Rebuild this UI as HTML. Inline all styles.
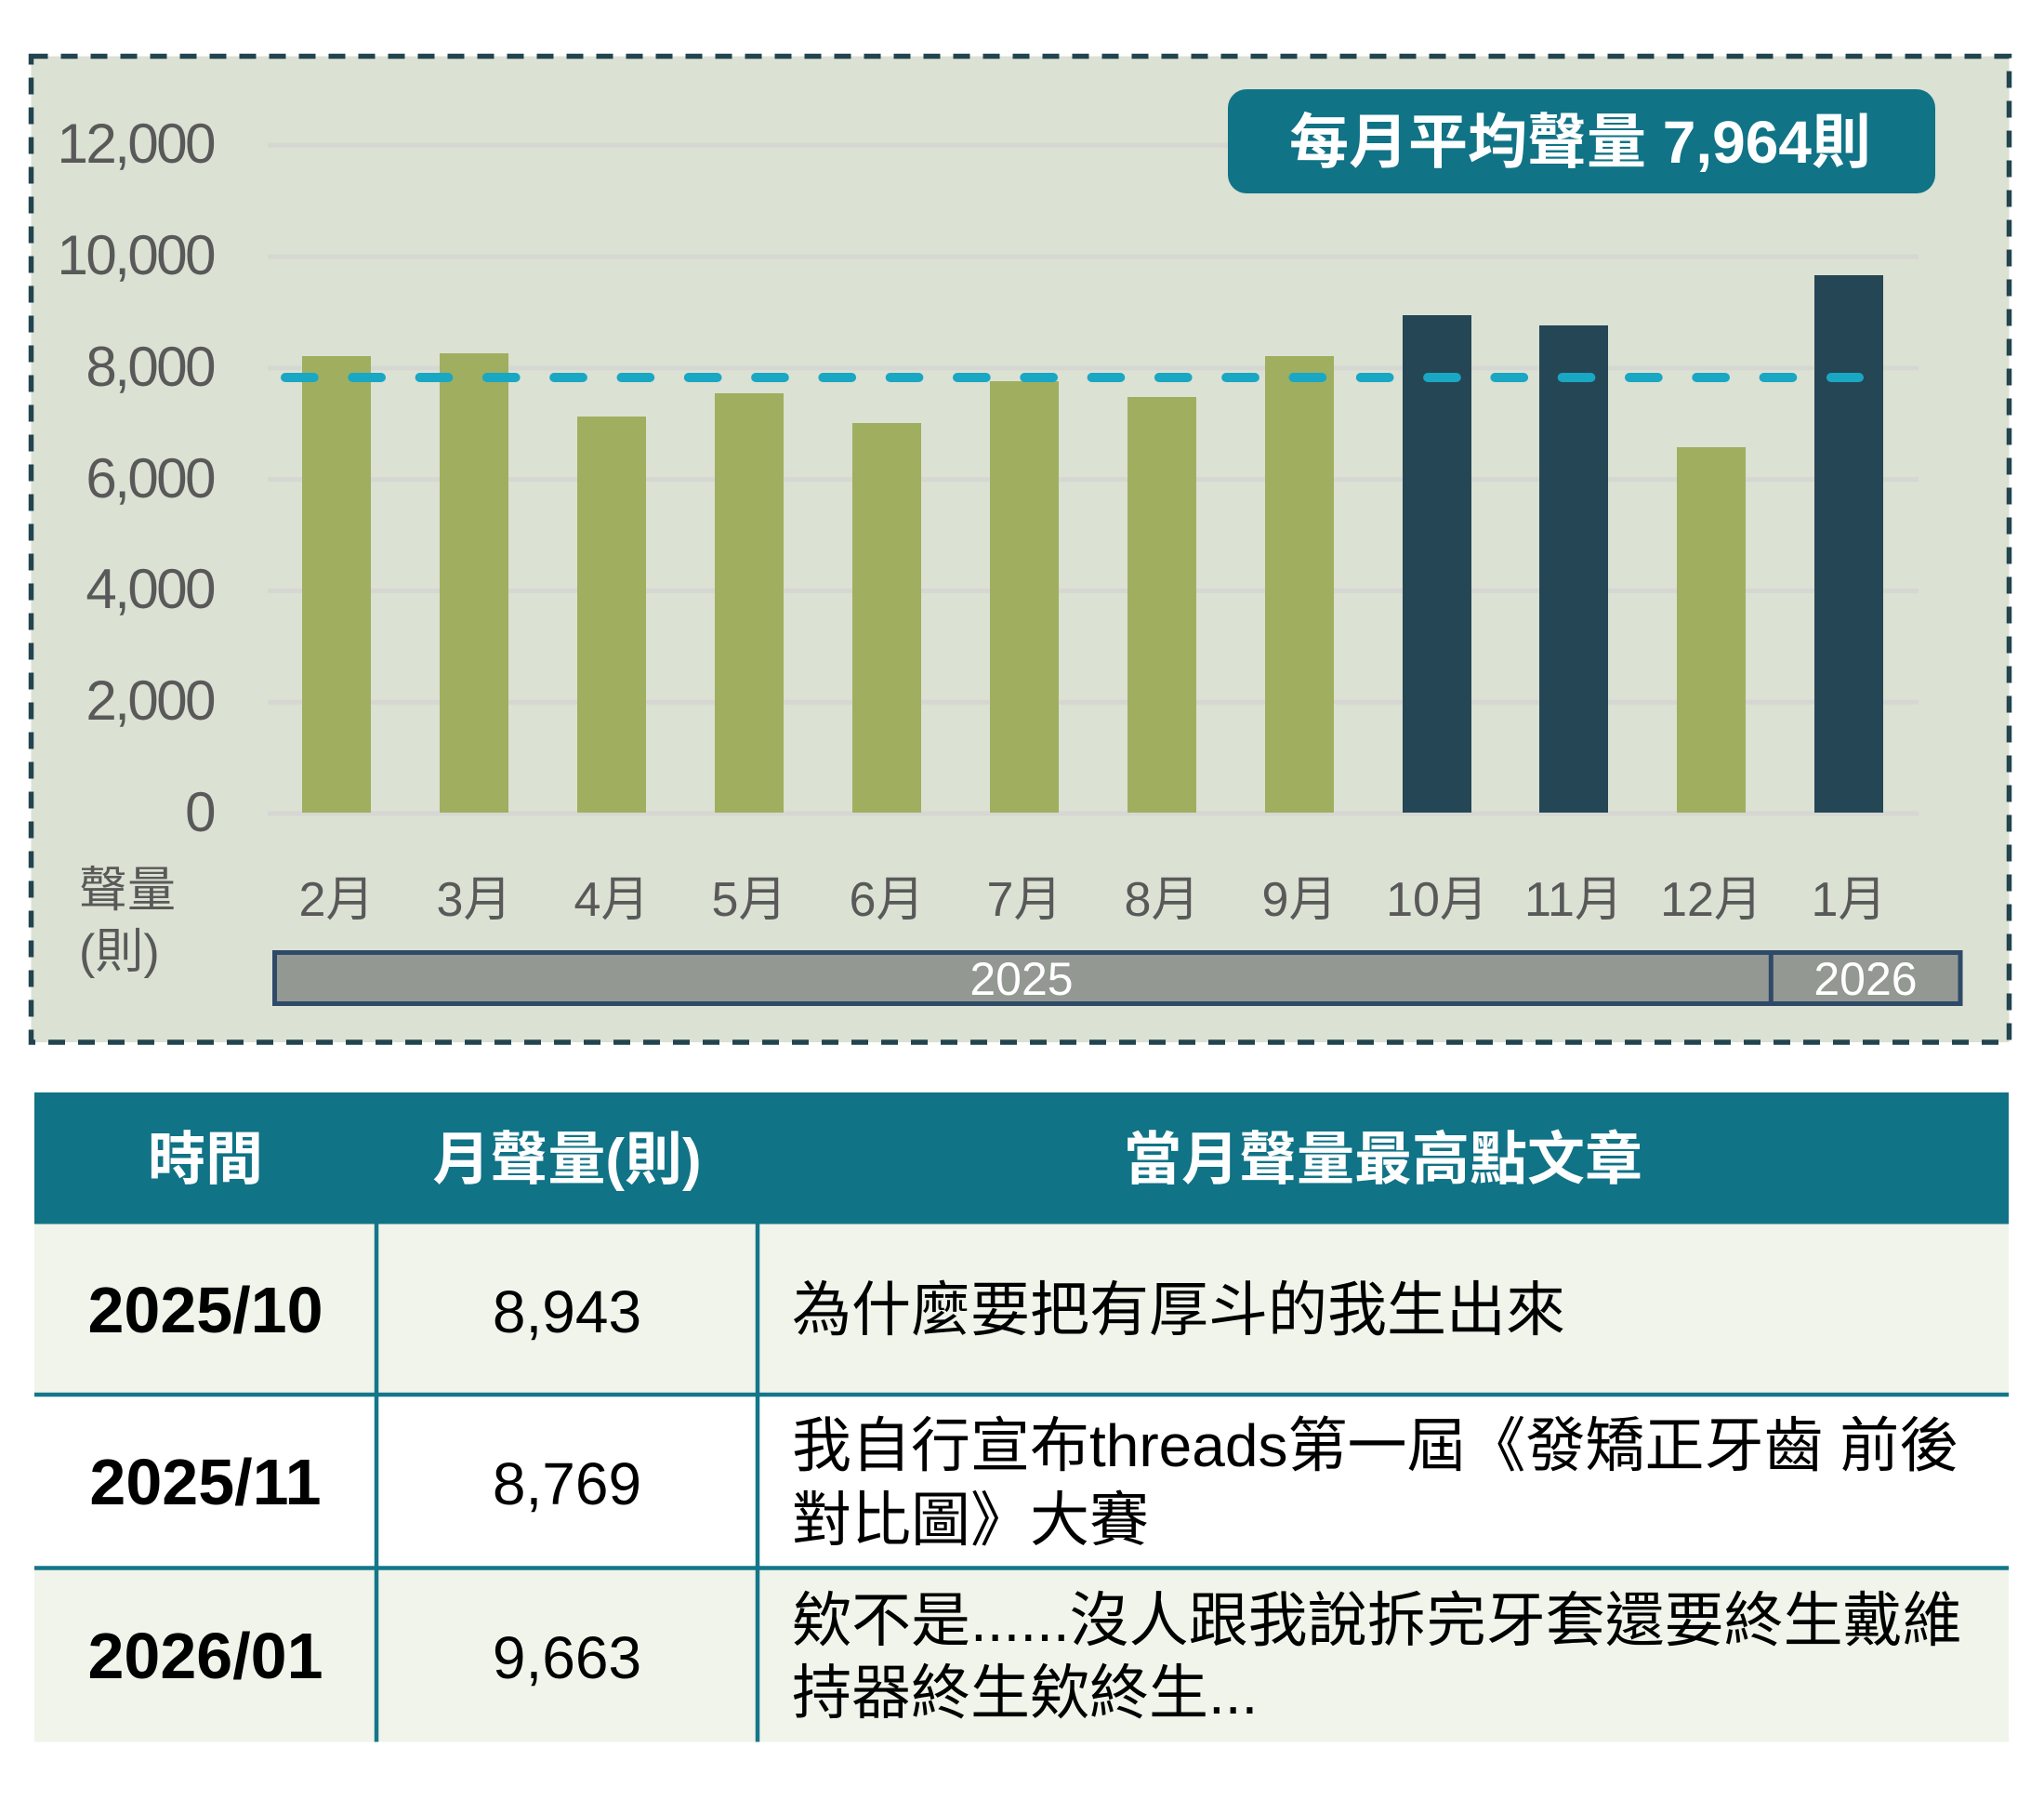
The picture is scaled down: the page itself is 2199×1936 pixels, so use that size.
<!DOCTYPE html>
<html>
<head>
<meta charset="utf-8">
<style>
  html,body{margin:0;padding:0;background:#ffffff;}
  body{width:2199px;height:1936px;overflow:hidden;position:relative;}
  svg{position:absolute;left:0;top:0;}
  text{font-family:"Liberation Sans","Noto Sans CJK TC",sans-serif;}
</style>
</head>
<body>
<svg width="2199" height="1936" viewBox="0 0 2199 1936" xmlns="http://www.w3.org/2000/svg">
  <!-- chart panel -->
  <rect x="33.5" y="60.5" width="2128" height="1060.5" fill="#dbe1d3" stroke="#22444f" stroke-width="5.5" stroke-dasharray="18 14"/>

  <!-- gridlines -->
  <g stroke="#d6d7d2" stroke-width="5">
    <line x1="288" y1="156.2" x2="2064" y2="156.2"/>
    <line x1="288" y1="276" x2="2064" y2="276"/>
    <line x1="288" y1="395.8" x2="2064" y2="395.8"/>
    <line x1="288" y1="515.6" x2="2064" y2="515.6"/>
    <line x1="288" y1="635.4" x2="2064" y2="635.4"/>
    <line x1="288" y1="755.2" x2="2064" y2="755.2"/>
    <line x1="288" y1="875" x2="2064" y2="875"/>
  </g>

  <!-- y labels -->
  <g fill="#595959" font-size="60" text-anchor="end" letter-spacing="-2.5">
    <text x="230" y="175">12,000</text>
    <text x="230" y="295">10,000</text>
    <text x="230" y="415">8,000</text>
    <text x="230" y="535">6,000</text>
    <text x="230" y="654">4,000</text>
    <text x="230" y="774">2,000</text>
    <text x="230" y="894">0</text>
  </g>

  <!-- bars -->
  <g>
    <rect x="325" y="383" width="74" height="491" fill="#9faf5f"/>
    <rect x="473" y="380" width="74" height="494" fill="#9faf5f"/>
    <rect x="621" y="448" width="74" height="426" fill="#9faf5f"/>
    <rect x="769" y="423" width="74" height="451" fill="#9faf5f"/>
    <rect x="917" y="455" width="74" height="419" fill="#9faf5f"/>
    <rect x="1065" y="410" width="74" height="464" fill="#9faf5f"/>
    <rect x="1213" y="427" width="74" height="447" fill="#9faf5f"/>
    <rect x="1361" y="383" width="74" height="491" fill="#9faf5f"/>
    <rect x="1509" y="339" width="74" height="535" fill="#254655"/>
    <rect x="1656" y="350" width="74" height="524" fill="#254655"/>
    <rect x="1804" y="481" width="74" height="393" fill="#9faf5f"/>
    <rect x="1952" y="296" width="74" height="578" fill="#254655"/>
  </g>

  <!-- average dashed line -->
  <line x1="307" y1="406" x2="2000" y2="406" stroke="#19a7c4" stroke-width="10" stroke-linecap="round" stroke-dasharray="30.7 41.6"/>

  <!-- badge -->
  <rect x="1321" y="96" width="761" height="112" rx="20" ry="20" fill="#107386"/>
  <text x="1700" y="175" fill="#ffffff" font-size="64" font-weight="bold" text-anchor="middle">每月平均聲量 7,964則</text>

  <!-- x labels -->
  <g fill="#595959" font-size="52" text-anchor="middle">
    <text x="362" y="985">2月</text>
    <text x="510" y="985">3月</text>
    <text x="658" y="985">4月</text>
    <text x="806" y="985">5月</text>
    <text x="954" y="985">6月</text>
    <text x="1102" y="985">7月</text>
    <text x="1250" y="985">8月</text>
    <text x="1398" y="985">9月</text>
    <text x="1546" y="985">10月</text>
    <text x="1693" y="985">11月</text>
    <text x="1841" y="985">12月</text>
    <text x="1989" y="985">1月</text>
  </g>

  <!-- axis unit -->
  <g fill="#595959" font-size="52">
    <text x="85" y="975">聲量</text>
    <text x="85" y="1041">(則)</text>
  </g>

  <!-- year bar -->
  <rect x="295.5" y="1024.5" width="1813.5" height="55" fill="#949893" stroke="#2f4a68" stroke-width="5"/>
  <line x1="1905.3" y1="1022" x2="1905.3" y2="1082" stroke="#2f4a68" stroke-width="5"/>
  <g fill="#ffffff" font-size="50" text-anchor="middle">
    <text x="1099" y="1070">2025</text>
    <text x="2007" y="1070">2026</text>
  </g>

  <!-- TABLE -->
  <rect x="37" y="1175" width="2124" height="141.5" fill="#107386"/>
  <rect x="37" y="1316.5" width="2124" height="183.5" fill="#f0f4ea"/>
  <rect x="37" y="1500" width="2124" height="186.5" fill="#ffffff"/>
  <rect x="37" y="1686.5" width="2124" height="187" fill="#f0f4ea"/>

  <g stroke="#14768a" stroke-width="4.5">
    <line x1="37" y1="1500" x2="2161" y2="1500"/>
    <line x1="37" y1="1686.5" x2="2161" y2="1686.5"/>
    <line x1="405" y1="1316.5" x2="405" y2="1873.5"/>
    <line x1="815" y1="1316.5" x2="815" y2="1873.5"/>
  </g>

  <!-- header text -->
  <g fill="#ffffff" font-size="62" font-weight="bold" text-anchor="middle">
    <text x="221" y="1268">時間</text>
    <text x="610" y="1268">月聲量(則)</text>
    <text x="1488" y="1268">當月聲量最高點文章</text>
  </g>

  <!-- column 1 -->
  <g fill="#000000" font-size="70" font-weight="bold" text-anchor="middle">
    <text x="221" y="1433">2025/10</text>
    <text x="221" y="1618">2025/11</text>
    <text x="221" y="1805">2026/01</text>
  </g>

  <!-- column 2 -->
  <g fill="#000000" font-size="64" text-anchor="middle">
    <text x="610" y="1433">8,943</text>
    <text x="610" y="1618">8,769</text>
    <text x="610" y="1805">9,663</text>
  </g>

  <!-- column 3 -->
  <g fill="#000000" font-size="64">
    <text x="852" y="1431">為什麼要把有厚斗的我生出來</text>
    <text x="852" y="1577">我自行宣布threads第一屆《發矯正牙齒 前後</text>
    <text x="852" y="1657">對比圖》大賽</text>
    <text x="852" y="1765">欸不是......沒人跟我說拆完牙套還要終生戴維</text>
    <text x="852" y="1843">持器終生欸終生...</text>
  </g>
</svg>
</body>
</html>
